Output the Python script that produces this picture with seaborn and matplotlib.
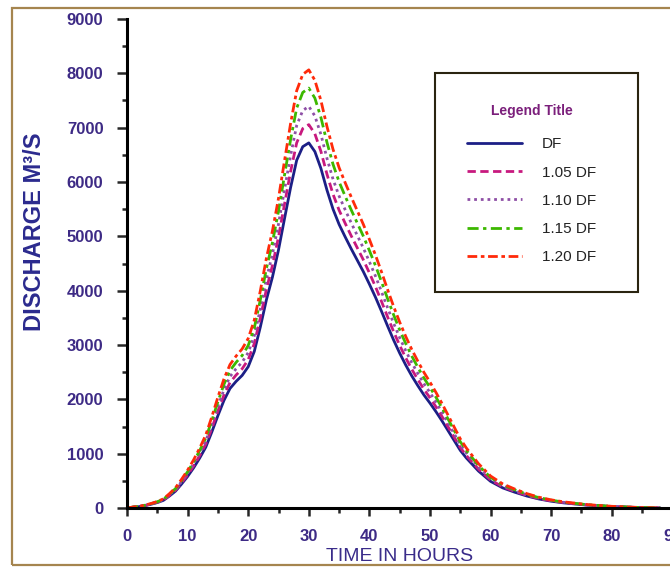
import pandas as pd
import matplotlib
matplotlib.use('Agg')
import matplotlib.pyplot as plt
from matplotlib.patches import Rectangle
from matplotlib.ticker import MultipleLocator
import seaborn as sns

# Hydrograph data (time in hours, discharge in m3/s)
hours = list(range(0, 56)) + [56, 58, 60, 62, 64, 66, 68, 70, 72, 76, 80, 84, 88]

df_q = [0, 15, 25, 45, 70, 100, 140, 220, 310, 440,
        580, 740, 920, 1120, 1400, 1700, 1980, 2200, 2330, 2440,
        2600, 2880, 3330, 3830, 4250, 4750, 5330, 5900, 6400, 6650,
        6720, 6560, 6250, 5850, 5500, 5220, 4990, 4770, 4560, 4350,
        4120, 3880, 3620, 3350, 3090, 2850, 2630, 2430, 2250, 2080,
        1930, 1770, 1600, 1420, 1240, 1060,
        920, 680, 490, 370, 290, 220, 165, 125, 95, 52, 26, 10, 0]
q_105 = [0, 16, 26, 47, 74, 105, 147, 231, 326, 462,
         609, 777, 966, 1176, 1470, 1785, 2079, 2310, 2447, 2562,
         2730, 3024, 3497, 4022, 4463, 4988, 5597, 6195, 6720, 6983,
         7056, 6888, 6563, 6143, 5775, 5481, 5240, 5009, 4788, 4568,
         4326, 4074, 3801, 3518, 3245, 2993, 2762, 2552, 2363, 2184,
         2027, 1859, 1680, 1491, 1302, 1113,
         966, 714, 515, 389, 305, 231, 173, 131, 100, 55, 27, 11, 0]
q_110 = [0, 17, 28, 50, 77, 110, 154, 242, 341, 484,
         638, 814, 1012, 1232, 1540, 1870, 2178, 2420, 2563, 2684,
         2860, 3168, 3663, 4213, 4675, 5225, 5863, 6490, 7040, 7315,
         7392, 7216, 6875, 6435, 6050, 5742, 5489, 5247, 5016, 4785,
         4532, 4268, 3982, 3685, 3399, 3135, 2893, 2673, 2475, 2288,
         2123, 1947, 1760, 1562, 1364, 1166,
         1012, 748, 539, 407, 319, 242, 182, 138, 105, 57, 29, 11, 0]
q_115 = [0, 17, 29, 52, 81, 115, 161, 253, 357, 506,
         667, 851, 1058, 1288, 1610, 1955, 2277, 2530, 2680, 2806,
         2990, 3312, 3830, 4405, 4888, 5463, 6130, 6785, 7360, 7648,
         7728, 7544, 7188, 6728, 6325, 6003, 5739, 5486, 5244, 5003,
         4738, 4462, 4163, 3853, 3554, 3278, 3025, 2795, 2588, 2392,
         2220, 2036, 1840, 1633, 1426, 1219,
         1058, 782, 564, 426, 334, 253, 190, 144, 109, 60, 30, 12, 0]
q_120 = [0, 18, 30, 54, 84, 120, 168, 264, 372, 528,
         696, 888, 1104, 1344, 1680, 2040, 2376, 2640, 2796, 2928,
         3120, 3456, 3996, 4596, 5100, 5700, 6396, 7080, 7680, 7980,
         8064, 7872, 7500, 7020, 6600, 6264, 5988, 5724, 5472, 5220,
         4944, 4656, 4344, 4020, 3708, 3420, 3156, 2916, 2700, 2496,
         2316, 2124, 1920, 1704, 1488, 1272,
         1104, 816, 588, 444, 348, 264, 198, 150, 114, 62, 31, 12, 0]

series_names = ['DF', '1.05 DF', '1.10 DF', '1.15 DF', '1.20 DF']
series_values = [df_q, q_105, q_110, q_115, q_120]

colors = {'DF': '#1c1f86', '1.05 DF': '#c8197e', '1.10 DF': '#8e4fa6',
          '1.15 DF': '#3cb800', '1.20 DF': '#ff2a0a'}
dashes = {'DF': '', '1.05 DF': (3, 1.6), '1.10 DF': (1, 1.4),
          '1.15 DF': (4, 1.6, 1.2, 1.6), '1.20 DF': (3.5, 1.3, 1.3, 1.3)}

data = pd.DataFrame({
    'time': hours * len(series_names),
    'discharge': sum(series_values, []),
    'series': [n for n in series_names for _ in hours],
})

sns.set_style('white')
plt.rcParams['font.family'] = ['Liberation Sans', 'DejaVu Sans']

W, H = 670, 569
fig = plt.figure(figsize=(W / 100, H / 100), dpi=100)
# axes placed in pixels; right edge runs a little past the picture (cropped like the original)
left, right, top, bottom = 127, 672.4, 19, 508
ax = fig.add_axes([left / W, 1 - bottom / H, (right - left) / W, (bottom - top) / H])

sns.lineplot(data=data, x='time', y='discharge', hue='series', style='series',
             palette=colors, dashes=dashes, hue_order=series_names,
             style_order=series_names, linewidth=2, ax=ax, legend=True)

ax.set_xlim(0, 90)
ax.set_ylim(0, 9000)
ax.xaxis.set_major_locator(MultipleLocator(10))
ax.xaxis.set_minor_locator(MultipleLocator(5))
ax.yaxis.set_major_locator(MultipleLocator(1000))
ax.yaxis.set_minor_locator(MultipleLocator(500))

for s in ['top', 'right']:
    ax.spines[s].set_visible(False)
for s in ['left', 'bottom']:
    ax.spines[s].set_linewidth(2.2)
    ax.spines[s].set_color('black')

tick_color = '#3d2a85'
ax.tick_params(axis='y', which='major', direction='out', length=7, width=1.8,
               pad=10, labelsize=12, labelcolor=tick_color, left=True)
ax.tick_params(axis='y', which='minor', direction='out', length=3.5, width=1.8, left=True)
ax.tick_params(axis='x', which='major', direction='out', length=6, width=1.8,
               pad=9, labelsize=12, labelcolor=tick_color, bottom=True)
ax.tick_params(axis='x', which='minor', direction='out', length=3.5, width=1.8, bottom=True)
for lab in ax.get_xticklabels() + ax.get_yticklabels():
    lab.set_fontweight('bold')

ax.set_xlabel('TIME IN HOURS', fontsize=14, color='#3a2c8a', va='center')
ax.xaxis.set_label_coords(0.5, -0.100)
ax.set_ylabel('DISCHARGE M³/S', fontsize=17, fontweight='bold', color='#2b2a8e',
              va='center')
ax.yaxis.set_label_coords(-0.169, 0.564)

# legend: frame drawn as a box in pixel positions
handles, labels = ax.get_legend_handles_labels()
ax.get_legend().remove()
leg = fig.legend(handles, labels, title='Legend Title', loc='center',
                 bbox_to_anchor=(531.5 / W, 1 - 184 / H), frameon=False,
                 fontsize=11, handlelength=3.6, handletextpad=1.3,
                 labelspacing=0.93)
leg.get_title().set_fontweight('bold')
leg.get_title().set_color('#7b1f7b')
leg.get_title().set_fontsize(10)
leg._legend_box.sep = 14
for t in leg.get_texts():
    t.set_color('#222222')

fig.patches.append(Rectangle((435 / W, 1 - 292 / H), (638 - 435) / W, (292 - 73) / H,
                             transform=fig.transFigure, fill=False,
                             edgecolor='#2a2410', linewidth=1.5))
# outer frame of the figure
fig.patches.append(Rectangle((12 / W, 1 - 565 / H), 1.2, (565 - 8) / H,
                             transform=fig.transFigure, fill=False,
                             edgecolor='#a5854f', linewidth=1.6))

fig.savefig('out.png', dpi=100)
